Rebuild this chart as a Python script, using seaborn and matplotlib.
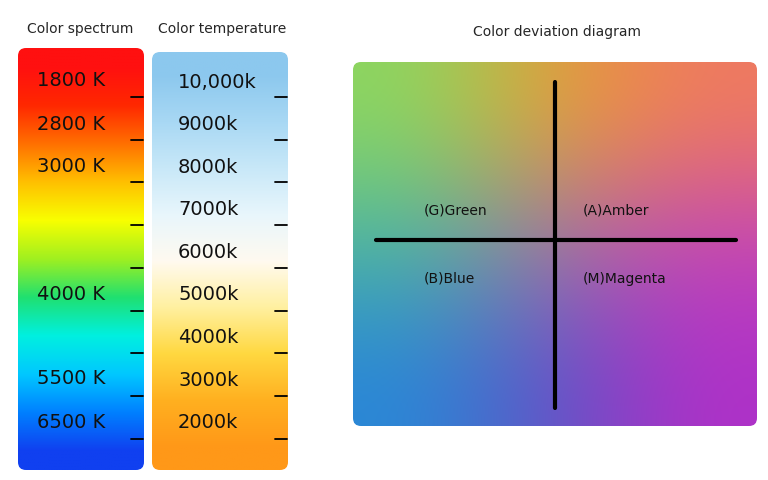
import numpy as np
import matplotlib
matplotlib.use("Agg")
import matplotlib.pyplot as plt
import seaborn as sns
from matplotlib.patches import FancyBboxPatch
from matplotlib.colors import to_rgb

sns.set_style("white")
plt.rcParams['font.family'] = ['DejaVu Sans']

spectrum_labels = ["1800 K", "2800 K", "3000 K", "4000 K", "5500 K", "6500 K"]
spectrum_label_y = [80, 124, 166, 294, 379, 422]
temp_labels = ["10,000k", "9000k", "8000k", "7000k", "6000k", "5000k", "4000k", "3000k", "2000k"]
spectrum_colors = ["#ff1010", "#ff2800", "#ff7000", "#ffc000", "#f8ff00", "#a0f020", "#20e070",
                   "#00f0e0", "#00c8ff", "#0080ff", "#1040f0"]
temp_colors = ["#8cc8ee", "#a8d8f4", "#c8e8f8", "#e8f6fc", "#fffaf0", "#fff0a0",
               "#ffd840", "#ffb020", "#ff9818"]
dev_grid = [["#8cd860", "#e8a030", "#f07a60"],
            ["#48b8a4", "#a474a4", "#c444b8"],
            ["#2888d8", "#5e52c6", "#b030c8"]]
dev_labels = ["(G)Green", "(A)Amber", "(B)Blue", "(M)Magenta"]

fig = plt.figure(figsize=(7.68, 4.8), dpi=100)
ax = fig.add_axes([0, 0, 1, 1])
ax.set_xlim(0, 768); ax.set_ylim(480, 0); ax.axis("off")

def grad_box(x0, y0, x1, y1, colors, r=8):
    arr = np.array([to_rgb(c) for c in colors])[:, None, :]
    im = ax.imshow(arr, extent=(x0, x1, y1, y0), aspect="auto", interpolation="bilinear", zorder=1)
    p = FancyBboxPatch((x0 + r, y0 + r), x1 - x0 - 2 * r, y1 - y0 - 2 * r,
                       boxstyle=f"round,pad={r}", transform=ax.transData, fc="none", ec="none")
    ax.add_patch(p); im.set_clip_path(p)

grad_box(18, 48, 144, 470, spectrum_colors)
grad_box(152, 52, 288, 470, temp_colors)

tick_y = [97 + 42.7 * i for i in range(9)]
for y in tick_y:
    ax.plot([131, 143], [y, y], color="black", lw=1.3, zorder=3)
    ax.plot([275, 287], [y, y], color="black", lw=1.3, zorder=3)
for lab, y in zip(spectrum_labels, spectrum_label_y):
    ax.text(37, y, lab, fontsize=14, va="center", ha="left", color="#111111", zorder=4)
for i, lab in enumerate(temp_labels):
    ax.text(178, 82 + 42.6 * i, lab, fontsize=14, va="center", ha="left", color="#111111", zorder=4)

ax.text(80, 29, "Color spectrum", fontsize=10, ha="center", va="center")
ax.text(222, 29, "Color temperature", fontsize=10, ha="center", va="center")
ax.text(557, 32, "Color deviation diagram", fontsize=10, ha="center", va="center")

arr = np.array([[to_rgb(c) for c in row] for row in dev_grid])
x0, y0, x1, y1, r = 353, 62, 757, 426, 8
im = ax.imshow(arr, extent=(x0, x1, y1, y0), aspect="auto", interpolation="bicubic", zorder=1)
p = FancyBboxPatch((x0 + r, y0 + r), x1 - x0 - 2 * r, y1 - y0 - 2 * r,
                   boxstyle=f"round,pad={r}", fc="none", ec="none")
ax.add_patch(p); im.set_clip_path(p)
ax.plot([555, 555], [82, 408], color="black", lw=3, zorder=3)
ax.plot([376, 736], [240, 240], color="black", lw=3, zorder=3)
for lab, (x, y) in zip(dev_labels, [(424, 211), (583, 211), (424, 279), (583, 279)]):
    ax.text(x, y, lab, fontsize=10, va="center", ha="left", color="#111111", zorder=4)

fig.savefig("out.png", dpi=100)
